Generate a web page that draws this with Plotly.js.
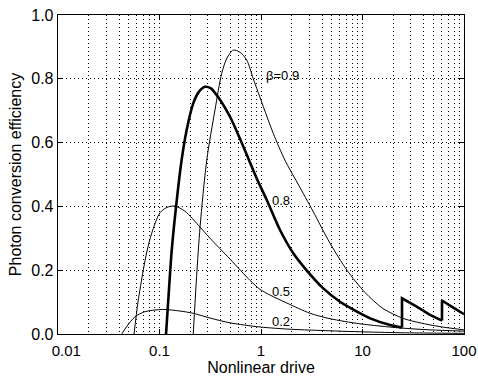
<!DOCTYPE html>
<html>
<head>
<meta charset="utf-8">
<script src="https://cdn.plot.ly/plotly-3.0.1.min.js"></script>
<style>html,body{margin:0;padding:0;background:#fff;}#chart{width:478px;height:376px;}</style>
</head>
<body>
<div id="chart"></div>
<script>
// ---- data ----
var b09x = [0.215, 0.232, 0.251, 0.292, 0.352, 0.410, 0.462, 0.533, 0.621, 0.723, 0.840, 1.054, 1.32, 1.72, 2.32, 3.25, 4.78, 7.03, 10.6, 15.9, 25.1, 36.9, 58, 100];
var b09y = [0.0, 0.18, 0.336, 0.545, 0.702, 0.817, 0.865, 0.89, 0.883, 0.859, 0.80, 0.713, 0.629, 0.545, 0.47, 0.385, 0.285, 0.20, 0.13, 0.08, 0.049, 0.035, 0.023, 0.013];

var b08x = [0.116, 0.124, 0.132, 0.148, 0.166, 0.185, 0.215, 0.245, 0.281, 0.321, 0.366, 0.495, 0.621, 0.75, 0.914, 1.14, 1.54, 2.08, 2.71, 4.11, 6.0, 9.44, 11.9, 18.7, 24.5];
var b08y = [0.0, 0.14, 0.263, 0.42, 0.55, 0.639, 0.723, 0.76, 0.775, 0.77, 0.749, 0.681, 0.612, 0.55, 0.485, 0.42, 0.326, 0.253, 0.206, 0.143, 0.101, 0.065, 0.049, 0.028, 0.02];
var b08sawAx = [24.5, 24.5, 34.2, 46.2, 60.7];
var b08sawAy = [0.02, 0.112, 0.086, 0.06, 0.042];
var b08sawBx = [60.7, 60.7, 76.2, 100];
var b08sawBy = [0.042, 0.105, 0.085, 0.062];

var b05x = [0.0561, 0.0614, 0.0692, 0.0753, 0.0838, 0.101, 0.1186, 0.142, 0.178, 0.251, 0.315, 0.495, 0.78, 0.977, 1.23, 1.80, 3.04, 4.79, 9.44, 23.4, 46.2, 100];
var b05y = [0.0, 0.10, 0.20, 0.26, 0.316, 0.38, 0.397, 0.401, 0.385, 0.335, 0.30, 0.235, 0.168, 0.14, 0.122, 0.097, 0.065, 0.048, 0.032, 0.019, 0.013, 0.009];

var b02x = [0.0425, 0.0479, 0.0574, 0.0719, 0.108, 0.159, 0.214, 0.315, 0.495, 0.977, 1.93, 4.79, 9.44, 23.4, 100];
var b02y = [0.0, 0.025, 0.054, 0.07, 0.077, 0.072, 0.065, 0.05, 0.035, 0.022, 0.015, 0.010, 0.007, 0.004, 0.002];

var curveLabels = ['\u03b2=0.9', '0.8', '0.5', '0.2'];
var labelX = [1.08, 1.23, 1.23, 1.23];
var labelY = [0.809, 0.417, 0.132, 0.039];

var xTickVals = [0.01, 0.1, 1, 10, 100];
var xTickText = ['\u00a0\u00a0\u00a0\u00a00.01', '0.1', '1', '10', '100'];
var yTickVals = [0, 0.2, 0.4, 0.6, 0.8, 1.0];
var yTickText = ['0.0', '0.2', '0.4', '0.6', '0.8', '1.0'];

// minor grid positions (2..9 in each decade)
var minorVals = [];
[0.01, 0.1, 1, 10].forEach(function (d) { for (var k = 2; k <= 9; k++) minorVals.push(d * k); });

function line(x, y, w, shape) {
  return {x: x, y: y, type: 'scatter', mode: 'lines', showlegend: false, hoverinfo: 'skip',
          line: {color: '#000', width: w, shape: shape || 'spline', smoothing: 0.8}};
}
var traces = [
  line(b02x, b02y, 1),
  line(b05x, b05y, 1),
  line(b09x, b09y, 1),
  line(b08x, b08y, 2.6),
  line(b08sawAx, b08sawAy, 2.6, 'linear'),
  line(b08sawBx, b08sawBy, 2.6, 'linear')
];

var annotations = curveLabels.map(function (t, i) {
  return {x: Math.log10(labelX[i]), y: labelY[i], xref: 'x', yref: 'y', text: t, showarrow: false,
          xanchor: 'left', yanchor: 'middle', font: {family: 'Liberation Sans, Arial, sans-serif', size: 13, color: '#000'}};
});

var gridDash = '1px,3px';
var layout = {
  width: 478, height: 376,
  margin: {l: 58, r: 14, t: 15, b: 42},
  paper_bgcolor: '#fff', plot_bgcolor: '#fff',
  font: {family: 'Liberation Sans, Arial, sans-serif', color: '#000', size: 15},
  xaxis: {
    type: 'log', range: [-2, 2], tickmode: 'array', tickvals: xTickVals, ticktext: xTickText,
    showgrid: true, gridcolor: '#000', gridwidth: 1, griddash: gridDash,
    minor: {tickmode: 'array', tickvals: minorVals, showgrid: true, gridcolor: '#000', gridwidth: 1, griddash: gridDash, ticks: ''},
    ticks: 'inside', ticklen: 5, tickcolor: '#000', tickwidth: 1,
    showline: true, linecolor: '#000', linewidth: 1.3, mirror: 'ticks', zeroline: false,
    tickfont: {size: 15}, ticklabelstandoff: 3,
    title: {text: 'Nonlinear drive', font: {size: 16}, standoff: 3}
  },
  yaxis: {
    range: [0, 1.0], tickmode: 'array', tickvals: yTickVals, ticktext: yTickText,
    showgrid: true, gridcolor: '#000', gridwidth: 1, griddash: gridDash,
    ticks: 'inside', ticklen: 5, tickcolor: '#000', tickwidth: 1,
    showline: true, linecolor: '#000', linewidth: 1.3, mirror: 'ticks', zeroline: false,
    tickfont: {size: 16},
    title: {text: 'Photon conversion efficiency', font: {size: 16}, standoff: 5}
  },
  annotations: annotations
};

Plotly.newPlot('chart', traces, layout, {staticPlot: true, displayModeBar: false});
</script>
</body>
</html>
